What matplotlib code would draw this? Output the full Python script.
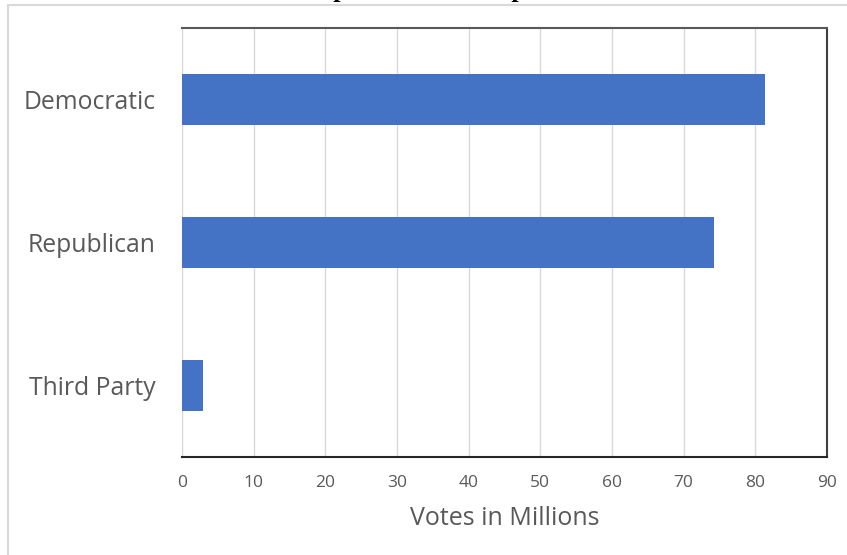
import matplotlib
matplotlib.use("Agg")
import matplotlib.pyplot as plt
from matplotlib.patches import Rectangle

categories = ["Democratic", "Republican", "Third Party"]
votes = [81.3, 74.2, 2.9]
xticks = [0, 10, 20, 30, 40, 50, 60, 70, 80, 90]
title = "Popular Vote Comparison"
xlabel = "Votes in Millions"

W, H = 847, 555
fig = plt.figure(figsize=(W / 100, H / 100), dpi=100)
fig.patch.set_facecolor("white")

# outer chart-area frame (extends past right/bottom edges)
fig.patches.append(Rectangle((8 / W, -0.05), 1.2, 1 - 5 / H + 0.05,
                             transform=fig.transFigure, fill=False,
                             edgecolor="#d9d9d9", linewidth=1.5))

ax = fig.add_axes([182 / W, 1 - 457 / H, (827 - 182) / W, (457 - 28) / H])
ypos = list(range(len(categories)))
ax.barh(ypos, votes, height=0.355, color="#4472c4", zorder=3)
ax.set_ylim(2.5, -0.5)
ax.set_xlim(0, 90)
ax.set_yticks(ypos)
ax.set_yticklabels(categories)
ax.set_xticks(xticks)
ax.grid(axis="x", color="#d9d9d9", linewidth=1.0, zorder=0)
ax.tick_params(length=0)
ax.tick_params(axis="y", pad=19, labelsize=17.8, labelcolor="#595959")
ax.tick_params(axis="x", pad=13, labelsize=12.5, labelcolor="#595959")
for lab in ax.get_xticklabels() + ax.get_yticklabels():
    lab.set_family("Open Sans")
ax.spines["left"].set_color("#d9d9d9")
ax.spines["top"].set_color("#595959")
ax.spines["top"].set_linewidth(1.5)
ax.spines["right"].set_color("#404040")
ax.spines["right"].set_linewidth(1.5)
ax.spines["bottom"].set_color("#262626")
ax.spines["bottom"].set_linewidth(1.5)
ax.set_xlabel(xlabel, fontsize=18, color="#595959", family="Open Sans", labelpad=11)

fig.text(0.532, 1 + 3 / H, title, ha="center", va="baseline",
         fontsize=19, fontweight="bold", family="Liberation Serif", color="#000000")

fig.savefig("out.png", dpi=100)
